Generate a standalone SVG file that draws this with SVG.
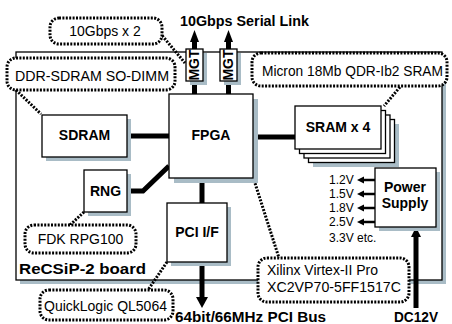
<svg xmlns="http://www.w3.org/2000/svg" width="452" height="324" viewBox="0 0 452 324">
<style>
.box{fill:#fff;stroke:#000;stroke-width:1.3}
.sh{fill:#a9bcc6}
.lbl{font-family:"Liberation Sans",Arial,sans-serif;font-weight:bold;font-size:14px;fill:#000}
.reg{font-family:"Liberation Sans",Arial,sans-serif;font-size:14px;fill:#000}
.sm{font-family:"Liberation Sans",Arial,sans-serif;font-size:12px;fill:#000}
.call{fill:#fff;stroke:#000;stroke-width:3;stroke-dasharray:2 1.4}
.dot{fill:none;stroke:#000;stroke-width:3;stroke-dasharray:2 1.4}
.bus{fill:none;stroke:#000;stroke-width:5}
.thin{fill:none;stroke:#000;stroke-width:2.5}
</style>
<rect width="452" height="324" fill="#fff"/>
<g id="board">
<rect class="sh" x="20" y="56" width="426" height="228"/>
<rect class="box" x="16" y="52" width="426" height="228"/>
<text class="lbl" x="19" y="274" font-size="15" textLength="127" lengthAdjust="spacingAndGlyphs">ReCSiP-2 board</text>
</g>
<g id="connectors">
<line class="bus" x1="127" y1="136" x2="169" y2="136"/>
<line class="bus" x1="253" y1="137" x2="295" y2="137"/>
<polyline class="bus" stroke-width="4" points="127,191 143,191 169,166"/>
<line class="bus" x1="202" y1="178" x2="202" y2="203"/>
<line class="bus" x1="202" y1="262" x2="202" y2="299"/>
<polygon points="196,297 208,297 202,308"/>
<line class="bus" stroke-width="4" x1="194.5" y1="94" x2="194.5" y2="40"/>
<polygon points="190,42 199,42 194.5,30"/>
<line class="bus" stroke-width="4" x1="228.5" y1="94" x2="228.5" y2="40"/>
<polygon points="224,42 233,42 228.5,30"/>
<line class="bus" x1="416" y1="308" x2="416" y2="236"/>
<polygon points="411,237 421,237 416,227"/>
<line class="thin" x1="375" y1="180" x2="362" y2="180"/>
<polygon points="357,180 364,176.5 364,183.5"/>
<line class="thin" x1="375" y1="194" x2="362" y2="194"/>
<polygon points="357,194 364,190.5 364,197.5"/>
<line class="thin" x1="375" y1="208" x2="362" y2="208"/>
<polygon points="357,208 364,204.5 364,211.5"/>
<line class="thin" x1="375" y1="222" x2="362" y2="222"/>
<polygon points="357,222 364,218.5 364,225.5"/>
<line class="dot" x1="160" y1="33" x2="185" y2="63"/>
<line class="dot" x1="16" y1="90" x2="41" y2="114"/>
<line class="dot" x1="400" y1="87" x2="384" y2="106"/>
<line class="dot" x1="84" y1="212" x2="70" y2="225"/>
<line class="dot" x1="167" y1="262" x2="148" y2="290"/>
<line class="dot" x1="254" y1="180" x2="279" y2="258"/>
</g>
<g id="fpga">
<rect class="sh" x="174" y="99" width="84" height="84"/>
<rect class="box" x="169" y="94" width="84" height="84"/>
<text class="lbl" x="211" y="140" text-anchor="middle">FPGA</text>
</g>
<g id="mgt1">
<rect class="sh" x="190" y="53" width="17" height="32"/>
<rect class="box" x="186" y="49" width="17" height="32"/>
<text class="lbl" font-size="11" transform="translate(198.5,65) rotate(-90)" text-anchor="middle">MGT</text>
</g>
<g id="mgt2">
<rect class="sh" x="224" y="53" width="17" height="32"/>
<rect class="box" x="220" y="49" width="17" height="32"/>
<text class="lbl" font-size="11" transform="translate(232.5,65) rotate(-90)" text-anchor="middle">MGT</text>
</g>
<g id="sdram">
<rect class="sh" x="46" y="119" width="85" height="42"/>
<rect class="box" x="42" y="115" width="85" height="42"/>
<text class="lbl" x="84.5" y="140" text-anchor="middle">SDRAM</text>
</g>
<g id="rng">
<rect class="sh" x="88" y="174" width="43" height="42"/>
<rect class="box" x="84" y="170" width="43" height="42"/>
<text class="lbl" x="105.5" y="196" text-anchor="middle">RNG</text>
</g>
<g id="pci">
<rect class="sh" x="171" y="207" width="60" height="59"/>
<rect class="box" x="167" y="203" width="60" height="59"/>
<text class="lbl" x="197" y="237" text-anchor="middle">PCI I/F</text>
</g>
<g id="sram">
<rect class="sh" x="313" y="124" width="86" height="43"/>
<rect class="box" x="308.5" y="119.5" width="86" height="43"/>
<rect class="box" x="304" y="115" width="86" height="43"/>
<rect class="box" x="299.5" y="110.5" width="86" height="43"/>
<rect class="box" x="295" y="106" width="86" height="43"/>
<text class="lbl" x="338" y="132" text-anchor="middle">SRAM x 4</text>
</g>
<g id="power">
<rect class="sh" x="379" y="172" width="61" height="59"/>
<rect class="box" x="375" y="168" width="61" height="59"/>
<text class="lbl" x="405" y="192" text-anchor="middle">Power</text>
<text class="lbl" x="405" y="208" text-anchor="middle">Supply</text>
</g>
<g id="voltages">
<text class="sm" x="329" y="184">1.2V</text>
<text class="sm" x="329" y="198">1.5V</text>
<text class="sm" x="329" y="212">1.8V</text>
<text class="sm" x="329" y="226">2.5V</text>
<text class="sm" x="329" y="242">3.3V etc.</text>
</g>
<g id="callout-10g">
<rect class="call" x="50" y="18" width="112" height="26" rx="9"/>
<text class="reg" x="105" y="36" text-anchor="middle">10Gbps x 2</text>
</g>
<g id="callout-ddr">
<rect class="call" x="7" y="58" width="168" height="32" rx="9"/>
<text class="reg" x="92" y="81" text-anchor="middle" textLength="154" lengthAdjust="spacingAndGlyphs">DDR-SDRAM SO-DIMM</text>
</g>
<g id="callout-micron">
<rect class="call" x="252" y="53" width="195" height="33" rx="9"/>
<text class="reg" x="262" y="76" textLength="181" lengthAdjust="spacingAndGlyphs">Micron 18Mb QDR-Ib2 SRAM</text>
</g>
<g id="callout-fdk">
<rect class="call" x="25" y="225" width="111" height="28" rx="9"/>
<text class="reg" x="80.5" y="244" text-anchor="middle">FDK RPG100</text>
</g>
<g id="callout-quicklogic">
<rect class="call" x="40" y="290" width="133" height="30" rx="9"/>
<text class="reg" x="105.5" y="311" text-anchor="middle">QuickLogic QL5064</text>
</g>
<g id="callout-xilinx">
<rect class="call" x="258" y="258" width="151" height="44" rx="9"/>
<text class="reg" x="267" y="275">Xilinx Virtex-II Pro</text>
<text class="reg" x="267" y="292" textLength="134" lengthAdjust="spacingAndGlyphs">XC2VP70-5FF1517C</text>
</g>
<g id="titles">
<text class="lbl" x="180" y="26" font-size="13" textLength="129" lengthAdjust="spacingAndGlyphs">10Gbps Serial Link</text>
<text class="lbl" x="175" y="322" font-size="13" textLength="151" lengthAdjust="spacingAndGlyphs">64bit/66MHz PCI Bus</text>
<text class="lbl" x="416" y="322" font-size="10" text-anchor="middle" textLength="44" lengthAdjust="spacingAndGlyphs">DC12V</text>
</g>
</svg>
